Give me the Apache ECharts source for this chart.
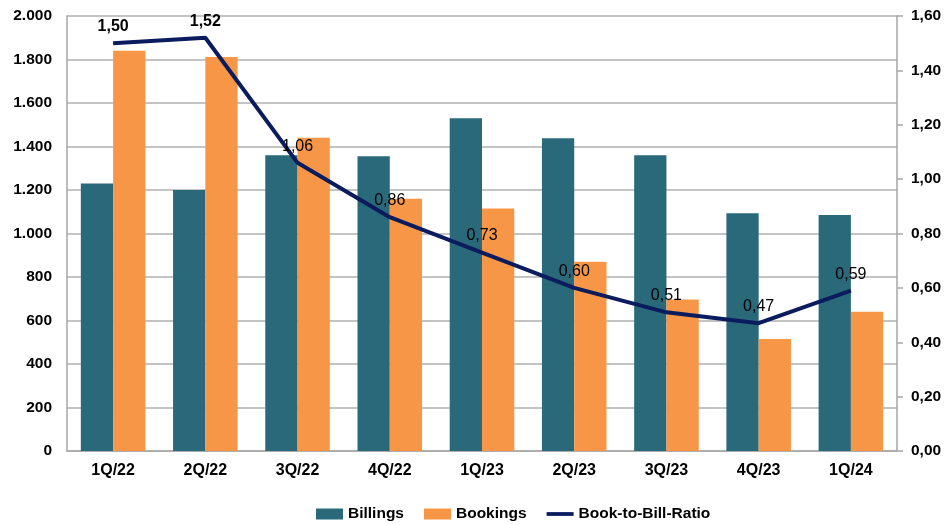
<!DOCTYPE html>
<html>
<head>
<meta charset="utf-8">
<script src="https://cdn.jsdelivr.net/npm/echarts@6/dist/echarts.min.js"></script>
<style>
html,body{margin:0;padding:0;background:#fff;}
#chart{width:947px;height:525px;}
</style>
</head>
<body>
<div id="chart"></div>
<script>
const categories = ['1Q/22','2Q/22','3Q/22','4Q/22','1Q/23','2Q/23','3Q/23','4Q/23','1Q/24'];
const billings = [1230, 1200, 1360, 1355, 1530, 1438, 1360, 1093, 1085];
const bookings = [1840, 1812, 1440, 1160, 1115, 870, 697, 515, 640];
const ratio = [1.50, 1.52, 1.06, 0.86, 0.73, 0.60, 0.51, 0.47, 0.59];
const boldLabelIdx = [0, 1];

const FONT = '"Liberation Sans", Arial, sans-serif';
const chart = echarts.init(document.getElementById('chart'));

function fmtThousands(v){
  return String(Math.round(v)).replace(/\B(?=(\d{3})+(?!\d))/g, '.');
}
const fmtRatio = v => v.toFixed(2).replace('.', ',');

chart.setOption({
  animation: false,
  backgroundColor: '#fff',
  textStyle: { fontFamily: FONT },
  grid: { left: 67, right: 50, top: 16, bottom: 74 },
  legend: {
    left: 311, top: 501,
    itemWidth: 27, itemHeight: 11, itemGap: 20,
    textStyle: { fontFamily: FONT, fontSize: 15.5, fontWeight: 'bold', color: '#000' },
    data: [
      { name: 'Billings', icon: 'rect' },
      { name: 'Bookings', icon: 'rect' },
      { name: 'Book-to-Bill-Ratio', icon: 'path://M0,0L30,0L30,4.2L0,4.2Z' }
    ]
  },
  xAxis: {
    type: 'category',
    data: categories,
    axisLine: { lineStyle: { color: '#a6a6a6', width: 1.5 } },
    axisTick: { show: false },
    axisLabel: { margin: 12, fontFamily: FONT, fontSize: 16, fontWeight: 'bold', color: '#000' }
  },
  yAxis: [
    {
      type: 'value', min: 0, max: 2000, interval: 200,
      axisLine: { show: true, lineStyle: { color: '#a6a6a6', width: 1.5 } },
      axisTick: { show: false },
      splitLine: { lineStyle: { color: '#b0b0b0', width: 1.5 } },
      axisLabel: { margin: 15, fontFamily: FONT, fontSize: 15.5, fontWeight: 'bold', color: '#000', formatter: fmtThousands }
    },
    {
      type: 'value', min: 0, max: 1.6, interval: 0.2,
      position: 'right',
      axisLine: { show: true, lineStyle: { color: '#a6a6a6', width: 1.5 } },
      axisTick: { show: true, length: 6, lineStyle: { color: '#a6a6a6', width: 1.5 } },
      splitLine: { show: false },
      axisLabel: { margin: 14, fontFamily: FONT, fontSize: 15.5, fontWeight: 'bold', color: '#000',
        formatter: fmtRatio }
    }
  ],
  series: [
    {
      name: 'Billings', type: 'bar', data: billings,
      barGap: '0%', barCategoryGap: '30%',
      itemStyle: { color: '#29697A' }
    },
    {
      name: 'Bookings', type: 'bar', data: bookings,
      itemStyle: { color: '#F79646' }
    },
    {
      name: 'Book-to-Bill-Ratio', type: 'line', yAxisIndex: 1,
      data: ratio,
      symbol: 'none',
      lineStyle: { color: '#0A1C5E', width: 4 },
      itemStyle: { color: '#0A1C5E' },
      z: 5
    },
    {
      name: 'ratioLabels', type: 'scatter', yAxisIndex: 1,
      data: ratio.map((v, i) => ({
        value: v,
        label: { fontWeight: boldLabelIdx.includes(i) ? 'bold' : 'normal' }
      })),
      symbolSize: 1,
      itemStyle: { color: 'rgba(0,0,0,0)', opacity: 1 },
      label: {
        show: true, position: 'top', distance: 8,
        fontFamily: FONT, fontSize: 16, color: '#000',
        formatter: p => fmtRatio(p.value)
      },
      z: 6,
      silent: true
    }
  ]
});
</script>
</body>
</html>
